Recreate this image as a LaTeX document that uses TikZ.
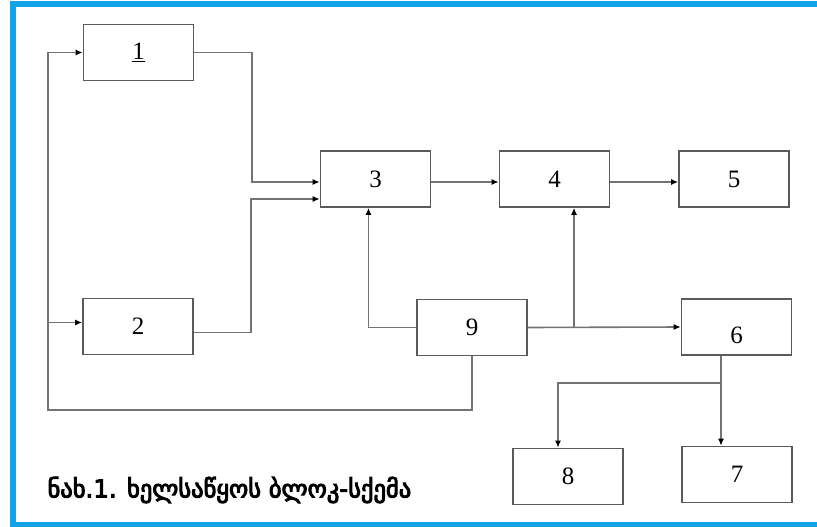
\documentclass[tikz,border=0pt]{standalone}
\usepackage{fontspec}
\setmainfont{Liberation Serif}
\newfontfamily\georgfont[Script=Georgian,FakeBold=4]{DejaVu Sans}
\usepackage{tikz}
\usetikzlibrary{arrows.meta}
\definecolor{framblue}{RGB}{18,162,232}
\definecolor{boxgray}{RGB}{90,90,90}
\definecolor{wiregray}{RGB}{115,115,115}

\begin{document}
\begin{tikzpicture}[x=1pt,y=-1pt,
	blk/.style={draw=boxgray,line width=1.6pt,minimum width=110pt,minimum height=56pt,inner sep=0pt,font=\fontsize{25}{30}\selectfont},
	wire/.style={draw=wiregray,line width=1.6pt},
	arr/.style={wire,-{Latex[length=7pt,width=6pt,color=black]}}]
	\useasboundingbox (0,0) rectangle (817,527);
	\fill[white] (0,0) rectangle (817,527);
	\draw[framblue,line width=6pt] (817,4.5) -| (13,524.5) -- (817,524.5);
	\node[blk] (b1) at (138.5,52.5) {\underline{1}};
	\node[blk] (b2) at (138,326.5) {2};
	\node[blk] (b3) at (375.5,179) {3};
	\node[blk] (b4) at (554.5,179) {4};
	\node[blk] (b5) at (734,179) {5};
	\node[blk] (b9) at (472,327.5) {9};
	\node[blk,text height=33pt,text depth=0pt] (b6) at (736.5,327) {6};
	\node[blk] (b8) at (568,476.5) {8};
	\node[blk] (b7) at (737,474.5) {7};
	\node[anchor=west,font=\georgfont\fontsize{24.5}{28}\selectfont] (cap) at (44,490) {ნახ.1. ხელსაწყოს ბლოკ-სქემა};
	\coordinate (j1) at (252,182);
	\coordinate (j2) at (251,199);
	\coordinate (fb) at (48,410);
	\coordinate (j4) at (574,327);
	\coordinate (j6) at (721,383);
	\coordinate (j8) at (558,383);
	\draw[arr] (b1.east) -| (j1) -- (j1 -| b3.west);
	\draw[arr] ([yshift=-6pt]b2.east) -| (j2) -- (j2 -| b3.west);
	\draw[arr] (b9.south) |- (fb) |- (b1.west);
	\draw[arr] (fb |- b2.west) ++(0,-4) -- ([yshift=4pt]b2.west);
	\draw[arr] (b9.west) -| ([xshift=-7pt]b3.south);
	\draw[arr] ([yshift=-3pt]b3.east) -- ([yshift=-3pt]b4.west);
	\draw[arr] ([yshift=-3pt]b4.east) -- ([yshift=-3pt]b5.west);
	\draw[arr] (b9.east) -- (b6.west);
	\draw[arr] (j4) -- (j4 |- b4.south);
	\draw[arr] (j6 |- b6.south) -- (j6 |- b7.north);
	\draw[arr] (j6) -- (j8) -- (j8 |- b8.north);
\end{tikzpicture}
\end{document}
